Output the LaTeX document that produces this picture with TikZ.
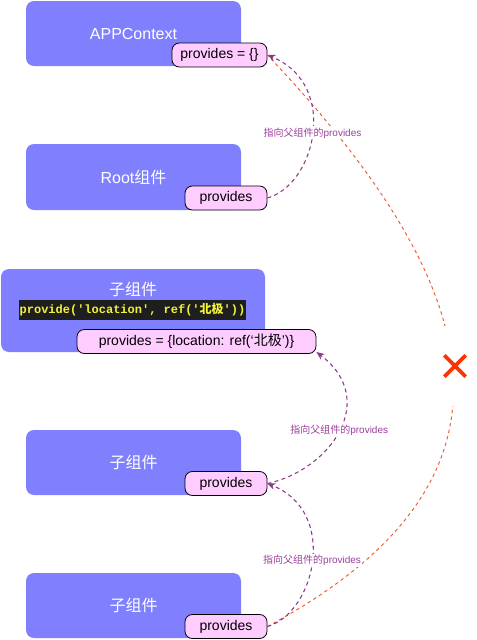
\documentclass[tikz,border=0pt]{standalone}
\usepackage{fontspec}
\setmainfont{Liberation Sans}
\setmonofont{Liberation Mono}
\newfontfamily\cjk{Noto Sans CJK SC}
\usetikzlibrary{arrows.meta}
\definecolor{compblue}{HTML}{8080FF}
\definecolor{provpink}{HTML}{FFCCFF}
\definecolor{linkpurple}{HTML}{8B3A8B}
\definecolor{notepurple}{HTML}{9B3F9B}
\definecolor{wrongred}{HTML}{F0552D}
\definecolor{crossred}{HTML}{FF3300}
\definecolor{codeyellow}{HTML}{F2F23A}
\definecolor{codebg}{HTML}{1E1E1E}
\begin{document}
\begin{tikzpicture}[x=0.75pt, y=-0.75pt,
    comp/.style={fill=compblue, rounded corners=6pt, minimum width=161.25pt, minimum height=48.75pt, text=white, font=\fontsize{12}{14}\selectfont},
    prov/.style={draw=black, fill=provpink, rounded corners=5.5pt, minimum height=18pt, inner sep=0pt, line width=0.6pt, font=\fontsize{10.5}{12}\selectfont},
    note/.style={fill=white, text=notepurple, inner sep=1pt, font=\fontsize{7.5}{9}\selectfont},
    uplink/.style={-{Stealth[length=6pt, width=5pt]}, linkpurple, line width=0.8pt, dash pattern=on 3pt off 2.5pt},
    wronglink/.style={wrongred, line width=0.7pt, dash pattern=on 2.5pt off 2.5pt},
    codeline/.style={fill=codebg, text=codeyellow, inner sep=0pt, minimum width=170.25pt, minimum height=15pt, font=\ttfamily\bfseries\fontsize{9}{10}\selectfont},
    nogo/.style={fill=white, inner sep=0pt, minimum width=20pt, minimum height=60pt,
        path picture={\draw[crossred, line width=2.8pt]
            ([shift={(-8pt,-8pt)}]path picture bounding box.center) -- ([shift={(8pt,8pt)}]path picture bounding box.center)
            ([shift={(-8pt,8pt)}]path picture bounding box.center) -- ([shift={(8pt,-8pt)}]path picture bounding box.center);}}]
    \useasboundingbox (0,0) rectangle (476,640);

    % AppContext
    \node[comp] (app) at (133.5,33.5) {APPContext};
    \node[prov, minimum width=71.25pt] (p1) at (219.5,55) {provides = \{\}};

    % Root component
    \node[comp, minimum height=49.5pt] (root) at (133.5,177) {Root{\cjk 组件}};
    \node[prov, minimum width=61.5pt] (p2) at (226,198) {provides};

    % child with provide()
    \node[comp, minimum width=198pt, minimum height=62.25pt] (child1) at (133,310.5) {};
    \node[text=white, font=\fontsize{12}{14}\selectfont] (title1) at (133,289) {\cjk 子组件};
    \node[codeline] (code1) at (132.5,310) {provide('location', ref('{\cjk 北极}'))};
    \node[prov, minimum width=179.25pt] (p3) at (196.5,341.5) {provides = \{location: ref(‘{\cjk 北极}’)\}};

    % child 2
    \node[comp] (child2) at (133.5,462.5) {\cjk 子组件};
    \node[prov, minimum width=61.5pt] (p4) at (226,483.5) {provides};

    % child 3
    \node[comp] (child3) at (133.5,605.5) {\cjk 子组件};
    \node[prov, minimum width=61.5pt] (p5) at (226,626.5) {provides};

    % no direct link to the app context
    \draw[wronglink] (p5.east) .. controls (540,480) and (490,290) .. (p1.east);

    % links to the parent's provides
    \draw[uplink] (p2.east) .. controls (315,185) and (340,85) .. (p1.east)
        node[note, pos=.5] (n1) {{\cjk 指向父组件的}provides};
    \draw[uplink] (p4.east) .. controls (330,470) and (380,400) .. (p3.-5)
        node[note, pos=.5] (n2) {{\cjk 指向父组件的}provides};
    \draw[uplink] (p5.east) .. controls (315,613) and (339,512) .. (p4.east)
        node[note, pos=.5] (n3) {{\cjk 指向父组件的}provides};

    \node[nogo] (cross) at (455,366) {};
\end{tikzpicture}
\end{document}
